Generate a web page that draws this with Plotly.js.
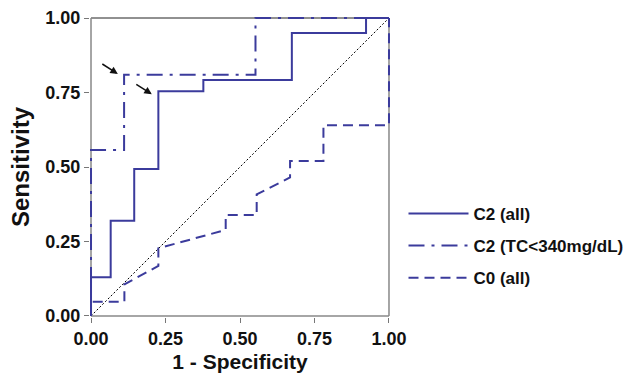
<!DOCTYPE html>
<html>
<head>
<meta charset="utf-8">
<script src="https://cdn.plot.ly/plotly-3.0.1.min.js"></script>
<style>html,body{margin:0;padding:0;background:#fff}#chart{width:630px;height:376px}</style>
</head>
<body>
<div id="chart"></div>
<script>
// ROC step curves (1 - Specificity, Sensitivity)
const c2AllX = [0, 0, 0.066, 0.066, 0.145, 0.145, 0.226, 0.226, 0.377, 0.377, 0.674, 0.674, 0.923, 0.923, 1];
const c2AllY = [0, 0.13, 0.13, 0.32, 0.32, 0.493, 0.493, 0.754, 0.754, 0.792, 0.792, 0.95, 0.95, 1, 1];

const c2TcX = [0, 0, 0.111, 0.111, 0.552, 0.552, 1];
const c2TcY = [0, 0.557, 0.557, 0.81, 0.81, 1, 1];

const c0AllX = [0, 0, 0.112, 0.112, 0.226, 0.226, 0.452, 0.452, 0.556, 0.556, 0.668, 0.668, 0.78, 0.78, 1, 1];
const c0AllY = [0, 0.048, 0.048, 0.106, 0.168, 0.227, 0.289, 0.339, 0.339, 0.408, 0.465, 0.52, 0.52, 0.64, 0.64, 1];

const refX = [0, 1];
const refY = [0, 1];

const seriesNames = ['C2 (all)', 'C2 (TC<340mg/dL)', 'C0 (all)'];
const tickVals = [0, 0.25, 0.5, 0.75, 1];
const tickText = ['0.00', '0.25', '0.50', '0.75', '1.00'];

const blue = '#3b3b9c';
const font = 'Liberation Sans, Arial, sans-serif';
const pad = 0.0034;

const traces = [
  {x: refX, y: refY, mode: 'lines', showlegend: false, hoverinfo: 'skip',
   line: {color: '#000', width: 1, dash: '2px,2px'}},
  {x: c2AllX, y: c2AllY, mode: 'lines', name: seriesNames[0], legendgroup: 'a',
   line: {color: blue, width: 2}},
  {x: c2TcX, y: c2TcY, mode: 'lines', name: seriesNames[1], legendgroup: 'b',
   line: {color: blue, width: 2, dash: '16px,7px,3px,7px'}},
  {x: c0AllX, y: c0AllY, mode: 'lines', name: seriesNames[2], legendgroup: 'c',
   line: {color: blue, width: 2, dash: '10px,6px'}}
];

const axisCommon = {
  range: [-pad, 1 + pad], tickvals: tickVals, ticktext: tickText,
  showgrid: false, zeroline: false, showline: false,
  ticks: 'outside', ticklen: 5, tickcolor: '#777', tickwidth: 1,
  tickfont: {family: font, size: 18, color: '#111', weight: 'bold'}
};

const layout = {
  width: 630, height: 376,
  margin: {l: 90, r: 240, t: 17, b: 59, autoexpand: false},
  paper_bgcolor: '#fff', plot_bgcolor: '#fff',
  xaxis: Object.assign({}, axisCommon, {
    title: {text: '1 - Specificity', font: {family: font, size: 21, color: '#111', weight: 'bold'}, standoff: 6}
  }),
  yaxis: Object.assign({}, axisCommon, {
    title: {text: 'Sensitivity', font: {family: font, size: 24, color: '#111', weight: 'bold'}, standoff: 8}
  }),
  shapes: [
    {type: 'line', xref: 'x', yref: 'y', x0: 0, x1: 1, y0: 1, y1: 1, layer: 'below', line: {color: '#222', width: 1}},
    {type: 'line', xref: 'x', yref: 'y', x0: 1, x1: 1, y0: 0, y1: 1, layer: 'below', line: {color: '#888', width: 1.5}},
    {type: 'line', xref: 'x', yref: 'y', x0: 0, x1: 0, y0: 0, y1: 1, layer: 'below', line: {color: '#888', width: 1.5}},
    {type: 'line', xref: 'x', yref: 'y', x0: 0, x1: 1, y0: 0, y1: 0, layer: 'below', line: {color: '#888', width: 1.5}}
  ],
  annotations: [
    {x: 0.09, y: 0.812, xref: 'x', yref: 'y', ax: -17, ay: -11, axref: 'pixel', ayref: 'pixel',
     showarrow: true, arrowhead: 2, arrowsize: 1, arrowwidth: 1.5, arrowcolor: '#111', text: ''},
    {x: 0.204, y: 0.744, xref: 'x', yref: 'y', ax: -17, ay: -11, axref: 'pixel', ayref: 'pixel',
     showarrow: true, arrowhead: 2, arrowsize: 1, arrowwidth: 1.5, arrowcolor: '#111', text: ''}
  ],
  showlegend: true,
  legend: {
    x: 1.045, y: 0.237, xanchor: 'left', yanchor: 'middle',
    traceorder: 'grouped', itemwidth: 60, tracegroupgap: 7,
    font: {family: font, size: 17, color: '#111', weight: 'bold'},
    bgcolor: 'rgba(0,0,0,0)'
  }
};

Plotly.newPlot('chart', traces, layout, {displayModeBar: false, staticPlot: true});
</script>
</body>
</html>
